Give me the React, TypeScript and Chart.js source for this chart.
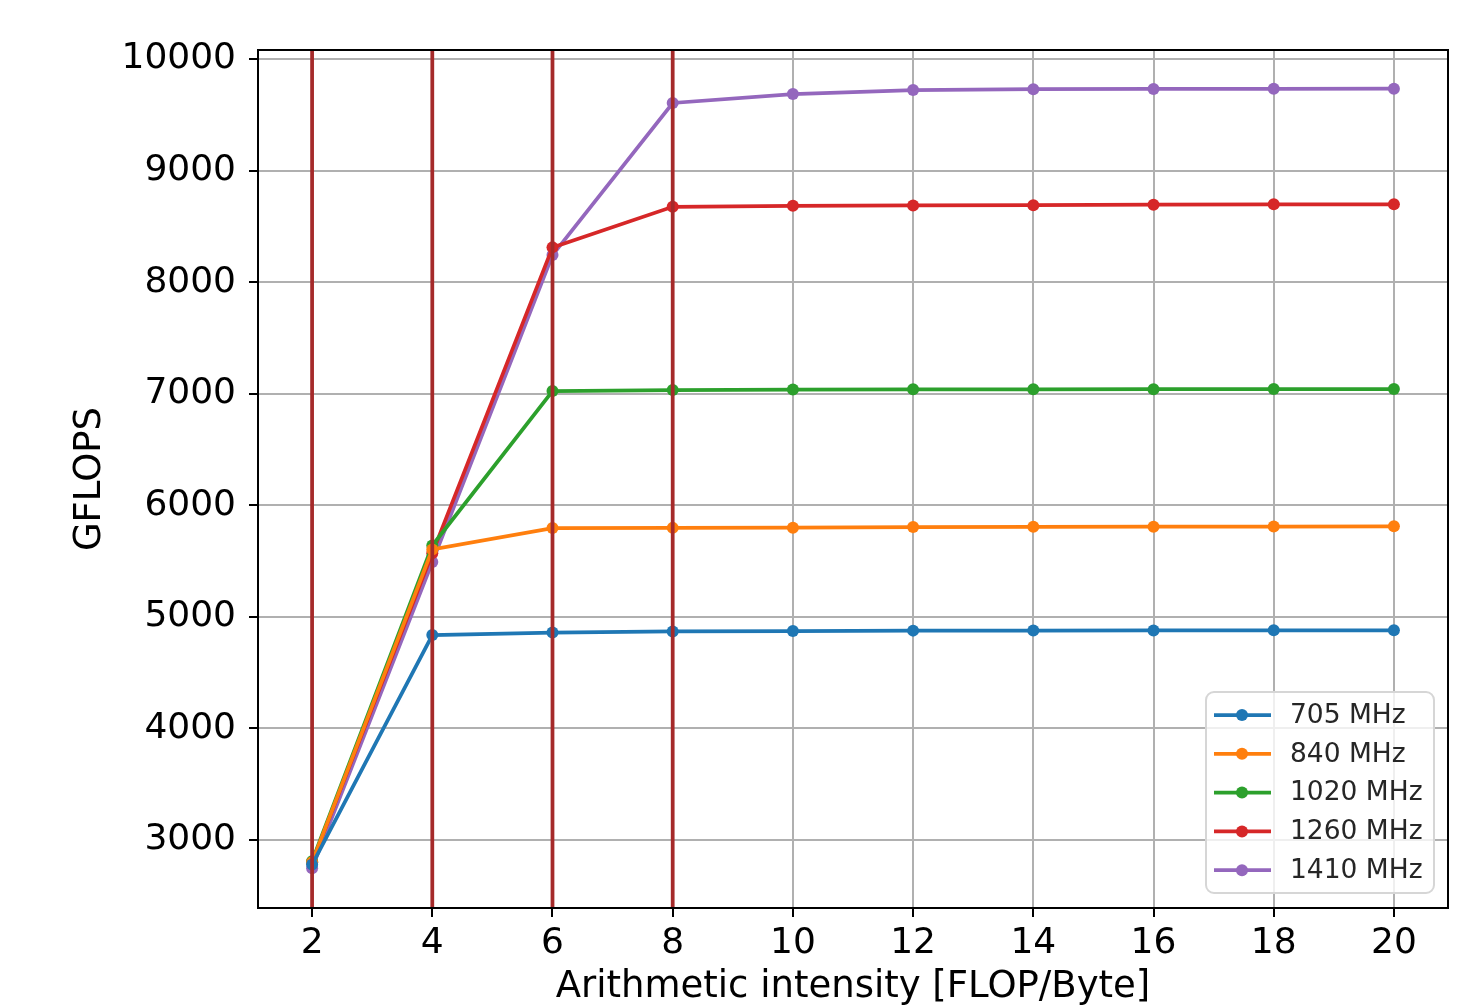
import React, { useEffect, useRef } from "react";
import { Chart, registerables } from "chart.js";

Chart.register(...registerables);

const intensities = [2, 4, 6, 8, 10, 12, 14, 16, 18, 20];
const seriesLabels = ["705 MHz", "840 MHz", "1020 MHz", "1260 MHz", "1410 MHz"];
const seriesColors = ["#1f77b4", "#ff7f0e", "#2ca02c", "#d62728", "#9467bd"];
const gflops705 = [2780, 4837, 4860, 4870, 4873, 4877, 4878, 4879, 4880, 4880];
const gflops840 = [2800, 5605, 5796, 5798, 5800, 5805, 5807, 5809, 5810, 5812];
const gflops1020 = [2810, 5640, 7024, 7033, 7038, 7040, 7040, 7041, 7042, 7042];
const gflops1260 = [2800, 5570, 8312, 8676, 8685, 8688, 8690, 8695, 8698, 8698];
const gflops1410 = [2748, 5492, 8243, 9606, 9686, 9722, 9730, 9732, 9733, 9734];
const markerLines = [2, 4, 6, 8];
const xTicks = [2, 4, 6, 8, 10, 12, 14, 16, 18, 20];
const yTicks = [3000, 4000, 5000, 6000, 7000, 8000, 9000, 10000];

const FONT = "'DejaVu Sans', sans-serif";

export default function App() {
  const ref = useRef<HTMLCanvasElement | null>(null);

  useEffect(() => {
    document.body.style.margin = "0";
    const canvas = ref.current;
    if (!canvas) return;
    const allSeries = [gflops705, gflops840, gflops1020, gflops1260, gflops1410];

    const overlay = {
      id: "overlay",
      afterDatasetsDraw(chart: any) {
        const { ctx, chartArea, scales } = chart;
        ctx.save();
        ctx.strokeStyle = "#a52a2a";
        ctx.lineWidth = 3.75;
        markerLines.forEach((v) => {
          const px = scales.x.getPixelForValue(v);
          ctx.beginPath();
          ctx.moveTo(px, chartArea.top);
          ctx.lineTo(px, chartArea.bottom);
          ctx.stroke();
        });
        ctx.restore();
      },
      afterDraw(chart: any) {
        const { ctx, chartArea } = chart;
        ctx.save();
        // spines
        ctx.strokeStyle = "#000";
        ctx.lineWidth = 2;
        ctx.strokeRect(chartArea.left, chartArea.top, chartArea.right - chartArea.left, chartArea.bottom - chartArea.top);
        // legend
        const w = 228;
        const h = 201;
        const right = chartArea.right - 14;
        const bottom = chartArea.bottom - 15;
        const lx = right - w;
        const ly = bottom - h;
        const r = 8;
        ctx.beginPath();
        ctx.moveTo(lx + r, ly);
        ctx.lineTo(lx + w - r, ly);
        ctx.arcTo(lx + w, ly, lx + w, ly + r, r);
        ctx.lineTo(lx + w, ly + h - r);
        ctx.arcTo(lx + w, ly + h, lx + w - r, ly + h, r);
        ctx.lineTo(lx + r, ly + h);
        ctx.arcTo(lx, ly + h, lx, ly + h - r, r);
        ctx.lineTo(lx, ly + r);
        ctx.arcTo(lx, ly, lx + r, ly, r);
        ctx.closePath();
        ctx.fillStyle = "rgba(255,255,255,0.8)";
        ctx.fill();
        ctx.strokeStyle = "#d6d6d6";
        ctx.lineWidth = 2;
        ctx.stroke();
        ctx.font = `26.5px ${FONT}`;
        ctx.textBaseline = "middle";
        ctx.textAlign = "left";
        chart.data.datasets.forEach((ds: any, i: number) => {
          const y = ly + 23 + i * 38.8;
          ctx.strokeStyle = ds.borderColor;
          ctx.lineWidth = 3.75;
          ctx.beginPath();
          ctx.moveTo(lx + 8, y);
          ctx.lineTo(lx + 65, y);
          ctx.stroke();
          ctx.fillStyle = ds.borderColor;
          ctx.beginPath();
          ctx.arc(lx + 36, y, 6, 0, Math.PI * 2);
          ctx.fill();
          ctx.fillStyle = "#262626";
          ctx.fillText(ds.label, lx + 84, y + 1);
        });
        ctx.restore();
      },
    };

    const chart = new Chart(canvas, {
      type: "line",
      data: {
        datasets: allSeries.map((vals, i) => ({
          label: seriesLabels[i],
          data: intensities.map((x, j) => ({ x, y: vals[j] })),
          borderColor: seriesColors[i],
          backgroundColor: seriesColors[i],
          borderWidth: 3.75,
          pointRadius: 6,
          pointHoverRadius: 6,
          pointBorderWidth: 0,
          tension: 0,
          fill: false,
        })),
      },
      options: {
        responsive: false,
        animation: false,
        events: [],
        layout: { padding: { left: 0, top: 50, right: 33, bottom: 0 } },
        plugins: { legend: { display: false }, tooltip: { enabled: false } },
        scales: {
          x: {
            type: "linear",
            min: 1.1,
            max: 20.9,
            afterBuildTicks: (s: any) => {
              s.ticks = xTicks.map((v) => ({ value: v }));
            },
            afterFit: (s: any) => {
              s.height = 98;
            },
            grid: { color: "#b0b0b0", lineWidth: 2, tickColor: "#000", tickLength: 9, tickWidth: 2 },
            border: { display: false },
            ticks: { color: "#000", font: { family: FONT, size: 36 }, padding: 5, maxRotation: 0, callback: (v: any) => String(v) },
            title: { display: true, text: "Arithmetic intensity [FLOP/Byte]", color: "#000", font: { family: FONT, size: 37, lineHeight: 1.0 }, padding: { top: 0, bottom: 0 } },
          },
          y: {
            type: "linear",
            min: 2391,
            max: 10081,
            afterBuildTicks: (s: any) => {
              s.ticks = yTicks.map((v) => ({ value: v }));
            },
            afterFit: (s: any) => {
              s.width = 258;
            },
            grid: { color: "#b0b0b0", lineWidth: 2, tickColor: "#000", tickLength: 9, tickWidth: 2 },
            border: { display: false },
            ticks: { color: "#000", font: { family: FONT, size: 36 }, padding: 13, callback: (v: any) => String(v) },
            title: { display: true, text: "GFLOPS", color: "#000", font: { family: FONT, size: 37, lineHeight: 1.0 }, padding: { top: 72, bottom: 0 } },
          },
        },
      },
      plugins: [overlay],
    } as any);
    return () => chart.destroy();
  }, []);

  return (
    <div style={{ position: "fixed", left: 0, top: 0, width: 1481, height: 1006, background: "#fff" }}>
      <canvas ref={ref} width={1481} height={1006} />
    </div>
  );
}
